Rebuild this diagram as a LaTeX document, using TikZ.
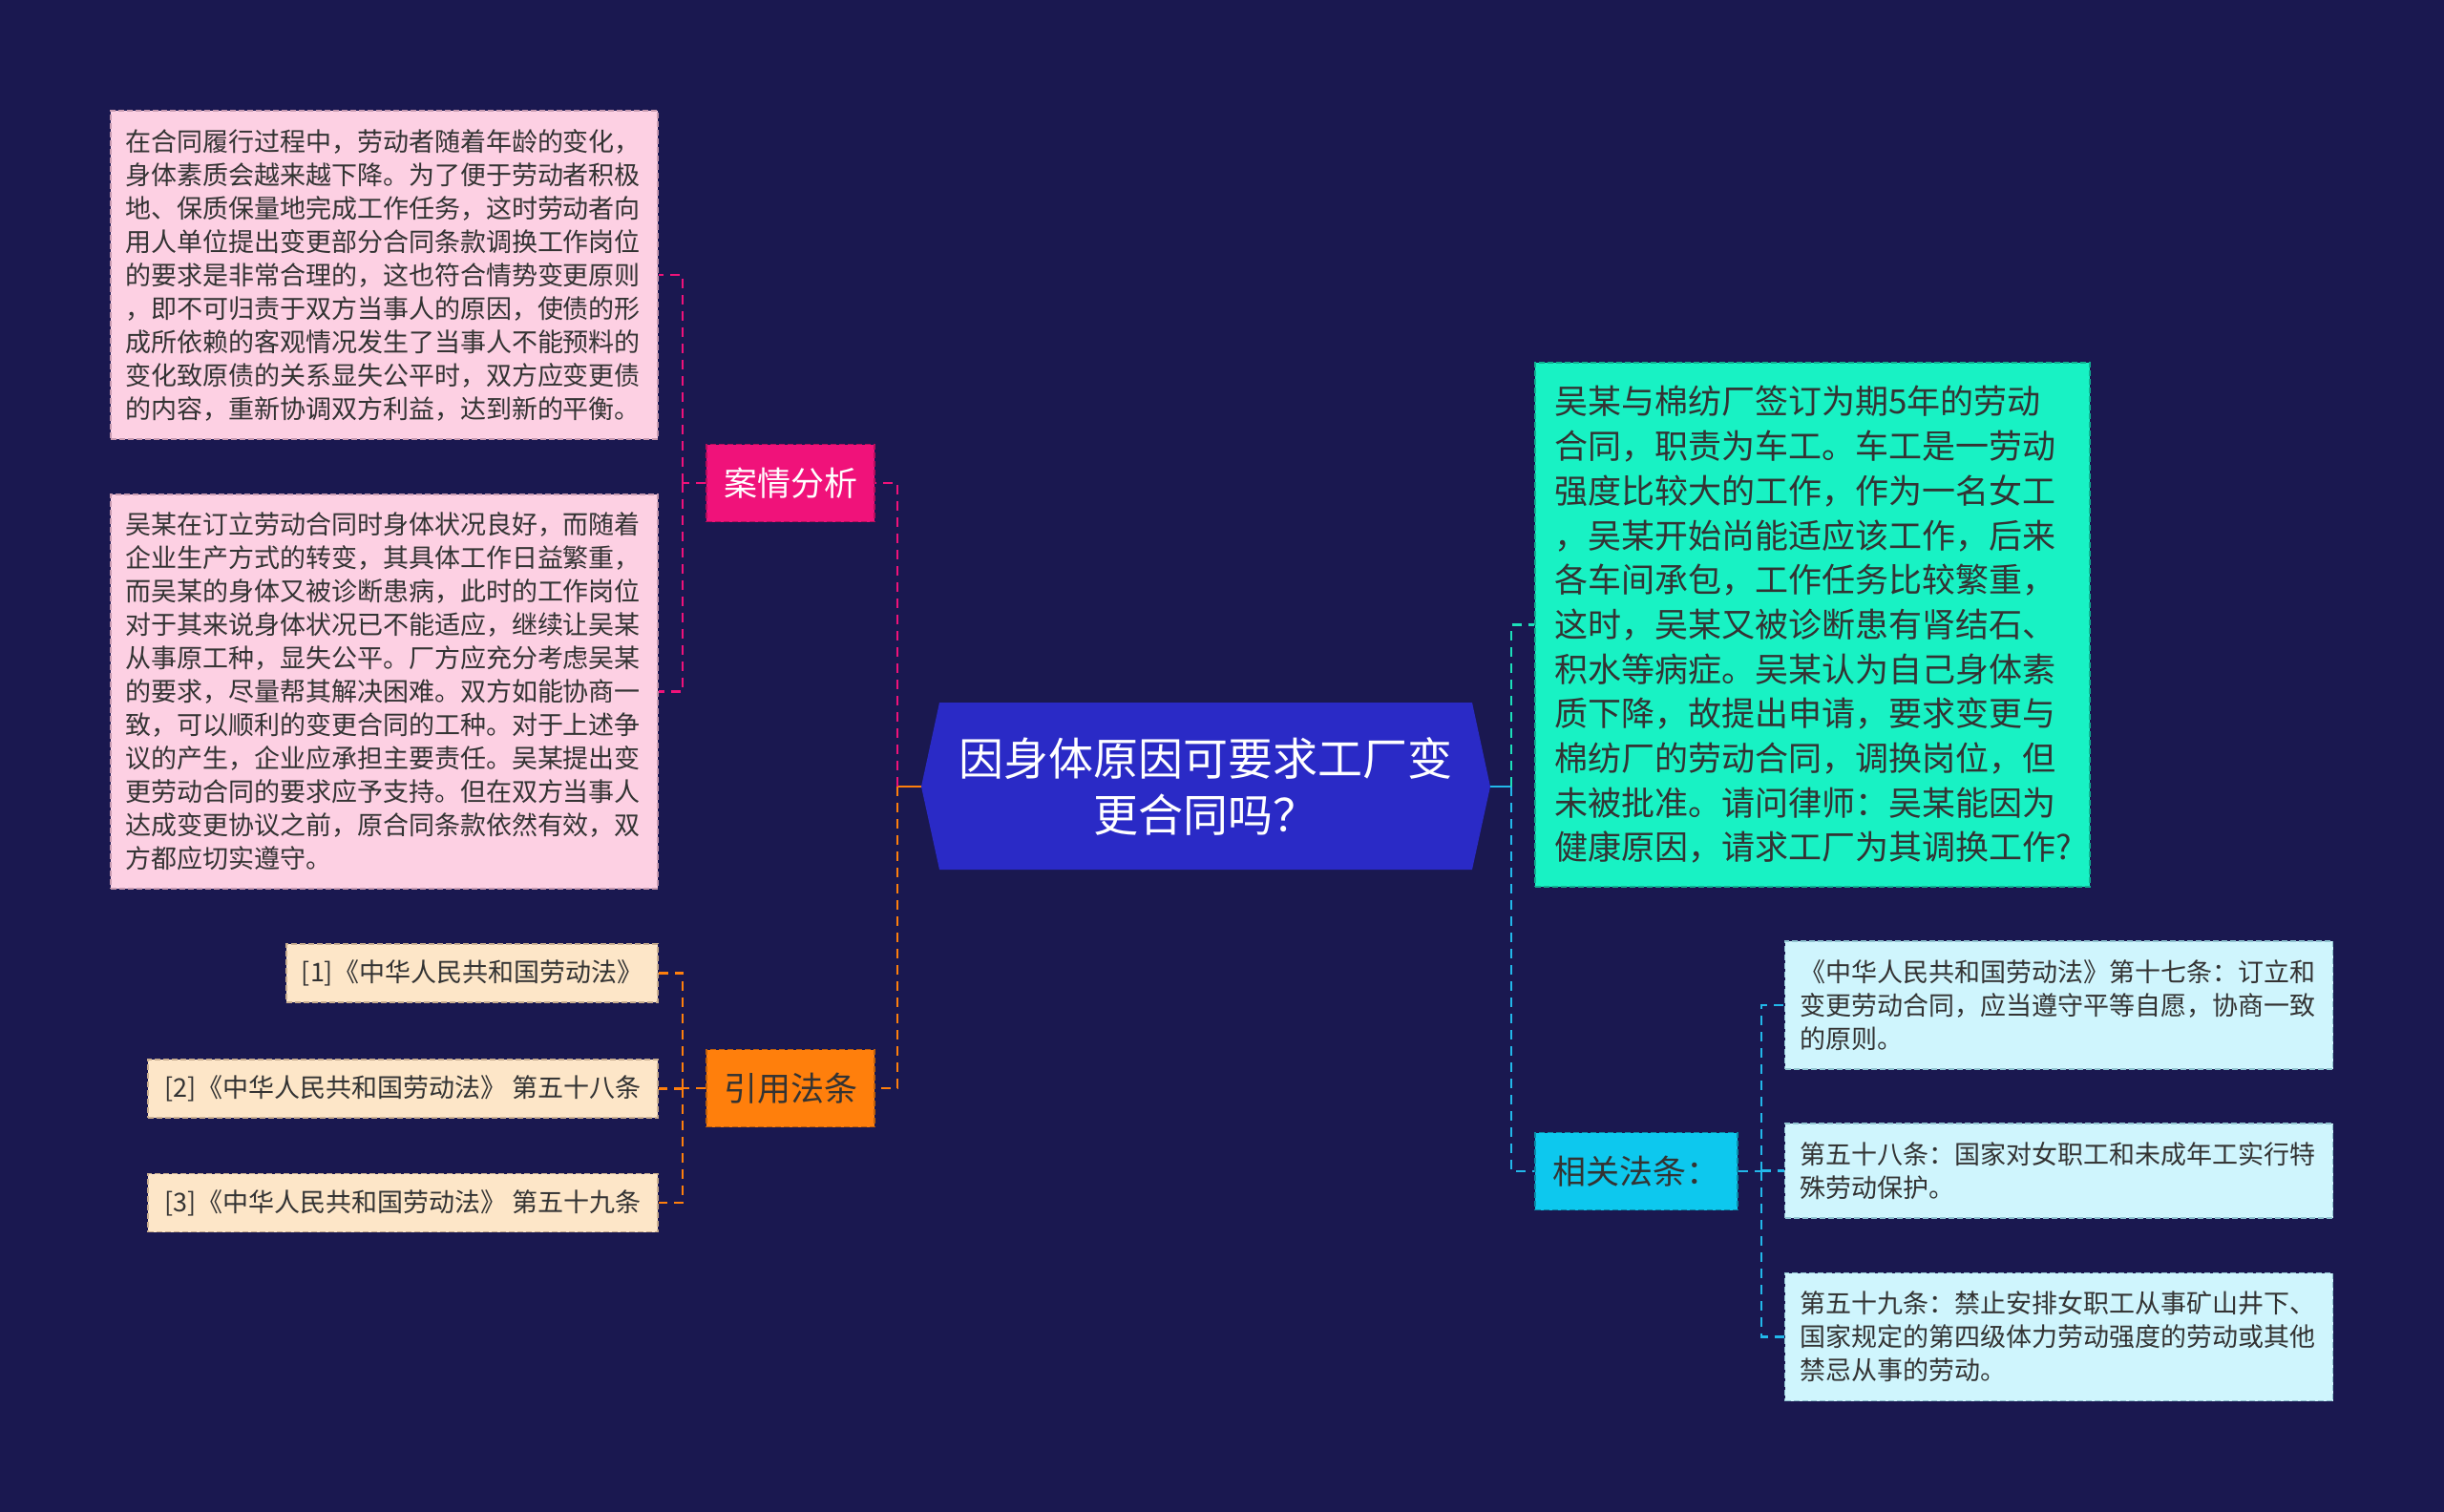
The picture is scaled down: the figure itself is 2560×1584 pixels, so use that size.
\documentclass[tikz,border=0pt]{standalone}
\usepackage{fontspec}
\setmainfont{Noto Sans CJK SC}
\definecolor{bg}{HTML}{1A1850}
\definecolor{rootblue}{HTML}{2A2AC6}
\definecolor{pinkfill}{HTML}{FDD0E3}
\definecolor{pinkborder}{HTML}{C79AB0}
\definecolor{magenta}{HTML}{F0127A}
\definecolor{peach}{HTML}{FDE6C8}
\definecolor{peachborder}{HTML}{C9AE90}
\definecolor{orangec}{HTML}{FF7F0C}
\definecolor{greenc}{HTML}{18F2C4}
\definecolor{greenborder}{HTML}{10B090}
\definecolor{greenline}{HTML}{1CE0BA}
\definecolor{cyanc}{HTML}{0DC8EE}
\definecolor{cyanline}{HTML}{22B8EA}
\definecolor{lightcyan}{HTML}{CFF5FD}
\definecolor{lightcyanborder}{HTML}{90C4D0}
\definecolor{txtdark}{HTML}{333333}
\begin{document}
\begin{tikzpicture}[x=1pt,y=-1pt,
  box/.style={rectangle, inner ysep=0pt, inner xsep=15pt, dash pattern=on 6pt off 3pt, line width=1.5pt, text=txtdark},
  small/.style={font=\fontsize{27}{35}\selectfont},
  pinkbox/.style={box, small, fill=pinkfill, draw=pinkborder, text width=543pt, align=left},
  refbox/.style={box, small, fill=peach, draw=peachborder, minimum height=61pt, align=center},
  lawbox/.style={box, small, fill=lightcyan, draw=lightcyanborder, inner xsep=16pt, text width=542pt, align=left},
  greenbox/.style={box, fill=greenc, draw=greenborder, inner xsep=20pt, text width=541pt, align=left, font=\fontsize{35}{46.7}\selectfont},
  label/.style={box, inner xsep=0pt, minimum height=81pt, align=center, font=\fontsize{35}{40}\selectfont},
  root/.style={rectangle, inner sep=0pt, minimum width=558pt, minimum height=175pt, align=center, text=white, font=\fontsize{47}{59}\selectfont},
  con/.style={line width=2.5pt, dash pattern=on 10pt off 7pt},
  conpink/.style={con, draw=magenta},
  conorange/.style={con, draw=orangec},
  congreen/.style={con, draw=greenline},
  concyan/.style={con, draw=cyanline},
  solidcon/.style={line width=2.5pt}
]
\fill[bg] (0,0) rectangle (2560,1584);
\useasboundingbox (0,0) rectangle (2560,1584);

% root
\coordinate (rootL) at (965,824);
\coordinate (rootR) at (1561,824);
\fill[rootblue] (rootL) -- (984,736) -- (1542,736) -- (rootR) -- (1542,911) -- (984,911) -- cycle;
\node[root] (root) at (1263,823.5) {因身体原因可要求工厂变\\更合同吗？};

% left level 1
\node[label, fill=magenta, draw=magenta!75!black, minimum width=176pt, text=white] (case) at (828,506) {案情分析};
\node[label, fill=orangec, draw=orangec!75!black, minimum width=176pt, text=black!80] (cite) at (828,1140) {引用法条};

% pink boxes
\node[pinkbox, minimum height=344pt] (p1) at (402.5,288) {在合同履行过程中，劳动者随着年龄的变化，\\身体素质会越来越下降。为了便于劳动者积极\\地、保质保量地完成工作任务，这时劳动者向\\用人单位提出变更部分合同条款调换工作岗位\\的要求是非常合理的，这也符合情势变更原则\\，即不可归责于双方当事人的原因，使债的形\\成所依赖的客观情况发生了当事人不能预料的\\变化致原债的关系显失公平时，双方应变更债\\的内容，重新协调双方利益，达到新的平衡。};
\node[pinkbox, minimum height=413pt] (p2) at (402.5,724.5) {吴某在订立劳动合同时身体状况良好，而随着\\企业生产方式的转变，其具体工作日益繁重，\\而吴某的身体又被诊断患病，此时的工作岗位\\对于其来说身体状况已不能适应，继续让吴某\\从事原工种，显失公平。厂方应充分考虑吴某\\的要求，尽量帮其解决困难。双方如能协商一\\致，可以顺利的变更合同的工种。对于上述争\\议的产生，企业应承担主要责任。吴某提出变\\更劳动合同的要求应予支持。但在双方当事人\\达成变更协议之前，原合同条款依然有效，双\\方都应切实遵守。};

% references
\node[refbox, minimum width=389pt] (r1) at (494.5,1019.5) {[1]《中华人民共和国劳动法》};
\node[refbox, minimum width=534pt] (r2) at (422,1140.5) {[2]《中华人民共和国劳动法》 第五十八条};
\node[refbox, minimum width=534pt] (r3) at (422,1260) {[3]《中华人民共和国劳动法》 第五十九条};

% right
\node[greenbox, minimum height=549pt] (story) at (1898.5,654.5) {吴某与棉纺厂签订为期5年的劳动\\合同，职责为车工。车工是一劳动\\强度比较大的工作，作为一名女工\\，吴某开始尚能适应该工作，后来\\各车间承包，工作任务比较繁重，\\这时，吴某又被诊断患有肾结石、\\积水等病症。吴某认为自己身体素\\质下降，故提出申请，要求变更与\\棉纺厂的劳动合同，调换岗位，但\\未被批准。请问律师：吴某能因为\\健康原因，请求工厂为其调换工作?};
\node[label, fill=cyanc, draw=cyanc!70!black, minimum width=212pt, text=black!80] (law) at (1714,1227) {相关法条：};

\node[lawbox, minimum height=134pt] (la) at (2156.5,1053) {《中华人民共和国劳动法》第十七条：订立和\\变更劳动合同，应当遵守平等自愿，协商一致\\的原则。};
\node[lawbox, minimum height=99pt] (lb) at (2156.5,1226.5) {第五十八条：国家对女职工和未成年工实行特\\殊劳动保护。};
\node[lawbox, minimum height=134pt] (lc) at (2156.5,1400.5) {第五十九条：禁止安排女职工从事矿山井下、\\国家规定的第四级体力劳动强度的劳动或其他\\禁忌从事的劳动。};

% junctions
\coordinate (jl) at (940,824);
\coordinate (jr) at (1583,824);
\coordinate (jcase) at (715,506);
\coordinate (jcite) at (715,1140);
\coordinate (jlaw) at (1845,1227);

% connectors
\draw[solidcon, orangec] (rootL) -- (jl);
\draw[conpink] (jl) |- (case.east);
\draw[conorange] (jl) |- (cite.east);
\draw[solidcon, cyanline] (rootR) -- (jr);
\draw[congreen] (jr) |- (story.west);
\draw[concyan] (jr) |- (law.west);

\draw[conpink] (case.west) -- (jcase);
\draw[conpink] (jcase) |- (p1.east);
\draw[conpink] (jcase) |- (p2.east);

\draw[conorange] (cite.west) -- (jcite);
\draw[conorange] (jcite) |- (r1.east);
\draw[conorange] (jcite) |- (r2.east);
\draw[conorange] (jcite) |- (r3.east);

\draw[concyan] (law.east) -- (jlaw);
\draw[concyan] (jlaw) |- (la.west);
\draw[concyan] (jlaw) |- (lb.west);
\draw[concyan] (jlaw) |- (lc.west);
\end{tikzpicture}
\end{document}
